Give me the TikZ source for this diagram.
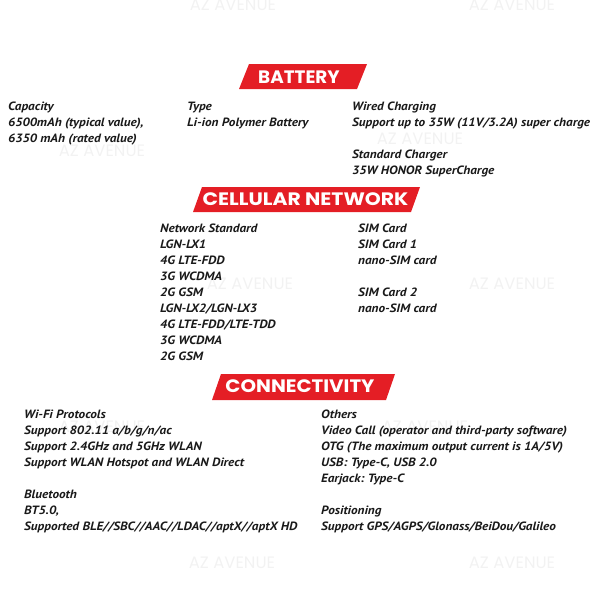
\documentclass[tikz,border=0pt]{standalone}
\usepackage{fontspec}
\setmainfont[FakeStretch=1.1]{PT Sans}
\newfontfamily\headfont{Poppins}
\definecolor{bannerred}{RGB}{228,30,37}
\definecolor{txtcol}{RGB}{25,25,25}
\frenchspacing
\begin{document}
\begin{tikzpicture}[x=1pt,y=-1pt,
  txt/.style={anchor=north west, inner sep=0pt, align=left, text=txtcol,
    font=\fontsize{12}{16}\selectfont\bfseries\itshape,
    execute at begin node={\strut}},
  head/.style={inner sep=0pt, text=white, font=\headfont\fontsize{18}{18}\selectfont\bfseries},
  wm/.style={inner sep=0pt, text=black!5, font=\headfont\fontsize{16.5}{17}\selectfont}]
\useasboundingbox (0,0) rectangle (600,600);
% watermarks
\node[wm] (wm1) at (233,5) {AZ AVENUE};
\node[wm] (wm2) at (512,5) {AZ AVENUE};
\node[wm] (wm3) at (102,151) {AZ AVENUE};
\node[wm] (wm4) at (420,139) {AZ AVENUE};
\node[wm] (wm5) at (-44,284) {AZ AVENUE};
\node[wm] (wm6) at (250,284) {AZ AVENUE};
\node[wm] (wm7) at (512,284) {AZ AVENUE};
\node[wm] (wm8) at (102,427) {AZ AVENUE};
\node[wm] (wm9) at (425,427) {AZ AVENUE};
\node[wm] (wm10) at (232,563) {AZ AVENUE};
\node[wm] (wm11) at (512,563) {AZ AVENUE};
% banners
\fill[bannerred] (239,89) -- (249,64) -- (367,64) -- (357,89) -- cycle;
\node[head] (battery) at (299,77) {\scalebox{1.02}[1]{BATTERY}};
\fill[bannerred] (193,212) -- (202,187) -- (420,187) -- (411,212) -- cycle;
\node[head] (cellular) at (305.5,199.5) {\scalebox{1.13}[1]{CELLULAR NETWORK}};
\fill[bannerred] (212,400) -- (221,374) -- (395,374) -- (386,400) -- cycle;
\node[head] (connect) at (300,386.5) {\scalebox{1.1}[1]{CONNECTIVITY}};
% battery
\node[txt] (capacity) at (8,101.6) {Capacity\\6500mAh (typical value),\\6350 mAh (rated value)};
\node[txt] (type) at (187,101.6) {Type\\Li-ion Polymer Battery};
\node[txt] (wired) at (352,101.6) {Wired Charging\\Support up to 35W (11V/3.2A) super charge\\[16pt]Standard Charger\\35W HONOR SuperCharge};
% cellular
\node[txt] (netstd) at (160,223.6) {Network Standard\\LGN-LX1\\4G LTE-FDD\\3G WCDMA\\2G GSM\\LGN-LX2/LGN-LX3\\4G LTE-FDD/LTE-TDD\\3G WCDMA\\2G GSM};
\node[txt] (sim) at (358,223.6) {SIM Card\\SIM Card 1\\nano-SIM card\\[16pt]SIM Card 2\\nano-SIM card};
% connectivity
\node[txt] (wifi) at (24,409.6) {Wi-Fi Protocols\\Support 802.11 a/b/g/n/ac\\Support 2.4GHz and 5GHz WLAN\\Support WLAN Hotspot and WLAN Direct\\[16pt]Bluetooth\\BT5.0,\\Supported BLE//SBC//AAC//LDAC//aptX//aptX HD};
\node[txt] (others) at (321,409.6) {Others\\Video Call (operator and third-party software)\\OTG (The maximum output current is 1A/5V)\\USB: Type-C, USB 2.0\\Earjack: Type-C\\[16pt]Positioning\\Support GPS/AGPS/Glonass/BeiDou/Galileo};
\end{tikzpicture}
\end{document}
